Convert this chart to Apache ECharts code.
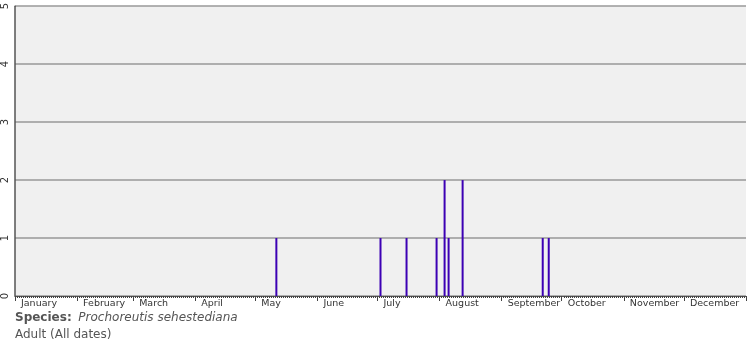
<!DOCTYPE html>
<html>
<head>
<meta charset="utf-8">
<script src="https://cdn.jsdelivr.net/npm/echarts@6/dist/echarts.min.js"></script>
<style>
html,body{margin:0;padding:0;background:#fff;}
#chart{width:755px;height:350px;}
</style>
</head>
<body>
<div id="chart"></div>
<script>
// Data
var monthNames = ['January','February','March','April','May','June','July','August','September','October','November','December'];
var monthDays = [31,28,31,30,31,30,31,31,30,31,30,31];
// sightings: day of year (0-based) and count
var sightingDays = [130, 182, 195, 210, 214, 216, 223, 263, 266];
var sightingCounts = [1, 1, 1, 1, 2, 1, 2, 1, 1];
var yTicks = [0, 1, 2, 3, 4, 5];

// Build day categories
var dayCats = [];
var monthStart = {};
var d = 0;
for (var m = 0; m < 12; m++) {
  monthStart[d] = monthNames[m];
  for (var k = 0; k < monthDays[m]; k++) { dayCats.push('d' + d); d++; }
}
var values = dayCats.map(function(){ return 0; });
for (var i = 0; i < sightingDays.length; i++) values[sightingDays[i]] = sightingCounts[i];

var chart = echarts.init(document.getElementById('chart'));
chart.setOption({
  animation: false,
  grid: { left: 15, right: 9, top: 6, bottom: 54, show: true, backgroundColor: '#f0f0f0', borderWidth: 0 },
  xAxis: [{
    type: 'category', data: dayCats, position: 'bottom', boundaryGap: true,
    axisLine: { show: true, lineStyle: { color: '#555', width: 1 } },
    axisTick: { show: true, length: 5, lineStyle: { color: '#444' },
      interval: function(idx){ return monthStart[idx] !== undefined; } },
    axisLabel: { show: true, align: 'left', margin: 3, padding: [0,0,0,5],
      fontFamily: 'DejaVu Sans', fontSize: 9.5, color: '#333',
      interval: function(idx){ return monthStart[idx] !== undefined; },
      formatter: function(v, idx){ return monthStart[idx] || ''; } },
    splitLine: { show: false }
  }, {
    type: 'category', data: dayCats, position: 'bottom', boundaryGap: true,
    axisLine: { show: false },
    axisTick: { show: true, length: 2, interval: 0, lineStyle: { color: '#444' } },
    axisLabel: { show: false },
    splitLine: { show: false }
  }],
  yAxis: {
    type: 'value', min: 0, max: 5, interval: 1,
    axisLine: { show: true, lineStyle: { color: '#555', width: 1.5 } },
    axisTick: { show: false },
    axisLabel: { rotate: 90, margin: 5, fontFamily: 'DejaVu Sans', fontSize: 10, color: '#333',
      formatter: function(v){ return yTicks.indexOf(v) >= 0 ? String(v) : ''; } },
    splitLine: { show: true, lineStyle: { color: '#999', width: 1.5 } }
  },
  series: [{
    type: 'bar', xAxisIndex: 0, data: values, barWidth: 2,
    itemStyle: { color: '#3c00b4' }
  }],
  graphic: [{
    type: 'text', left: 15, top: 312,
    style: {
      text: '{b|Species:}  {i|Prochoreutis sehestediana}\n{n|Adult (All dates)}',
      rich: {
        b: { fontFamily: 'DejaVu Sans', fontSize: 12, fontWeight: 'bold', fill: '#555', lineHeight: 17 },
        i: { fontFamily: 'DejaVu Sans', fontSize: 12, fontStyle: 'italic', fill: '#555', lineHeight: 17 },
        n: { fontFamily: 'DejaVu Sans', fontSize: 12, fill: '#555', lineHeight: 17 }
      }
    }
  }]
});
</script>
</body>
</html>
